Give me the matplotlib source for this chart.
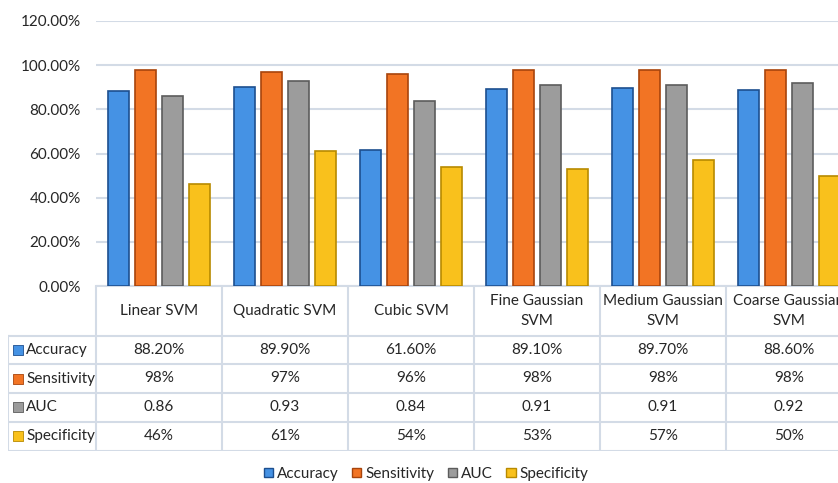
import matplotlib
matplotlib.use('Agg')
import numpy as np
import matplotlib.pyplot as plt
from matplotlib.patches import Patch

plt.rcParams['font.family'] = ['Lato', 'DejaVu Sans']

models = ['Linear SVM', 'Quadratic SVM', 'Cubic SVM', 'Fine Gaussian\nSVM',
          'Medium Gaussian\nSVM', 'Coarse Gaussian\nSVM']
series = ['Accuracy', 'Sensitivity', 'AUC', 'Specificity']
accuracy = [0.882, 0.899, 0.616, 0.891, 0.897, 0.886]
sensitivity = [0.98, 0.97, 0.96, 0.98, 0.98, 0.98]
auc = [0.86, 0.93, 0.84, 0.91, 0.91, 0.92]
specificity = [0.46, 0.61, 0.54, 0.53, 0.57, 0.50]
table_text = [
    ['88.20%', '89.90%', '61.60%', '89.10%', '89.70%', '88.60%'],
    ['98%', '97%', '96%', '98%', '98%', '98%'],
    ['0.86', '0.93', '0.84', '0.91', '0.91', '0.92'],
    ['46%', '61%', '54%', '53%', '57%', '50%'],
]
yticks = [0, 0.2, 0.4, 0.6, 0.8, 1.0, 1.2]

colors = ['#4592e4', '#f27424', '#9c9c9c', '#f9c11c']
edges = ['#1d4f8f', '#a8440c', '#5c5c5c', '#b88a00']
grid_c = '#d3dbe6'
text_c = '#262626'

W, H = 838, 483
fig = plt.figure(figsize=(W / 100, H / 100), dpi=100)

# main bar axes, right part runs past the figure edge like the source screenshot
ax = fig.add_axes([96 / W, (H - 286) / H, 756 / W, 265 / H])
x = np.arange(len(models))
vals = [accuracy, sensitivity, auc, specificity]
for i, v in enumerate(vals):
    ax.bar(x + (i - 1.5) * 0.214, v, 0.17, color=colors[i],
           edgecolor=edges[i], linewidth=1.2, zorder=3)
ax.set_xlim(-0.5, 5.5)
ax.set_ylim(0, 1.2)
ax.set_yticks(yticks)
ax.set_yticklabels(['%.2f%%' % (t * 100) for t in yticks], fontsize=11, color=text_c)
ax.tick_params(axis='y', length=0, pad=11)
ax.set_xticks([])
ax.grid(axis='y', color=grid_c, linewidth=1.5, zorder=0)
for s in ['left', 'right', 'top']:
    ax.spines[s].set_visible(False)
ax.spines['bottom'].set_color(grid_c)
ax.spines['bottom'].set_linewidth(1.5)

# data table underneath
x0 = -0.5 - 88 / 126
tax = fig.add_axes([8 / W, (H - 451) / H, (852 - 8) / W, 165 / H])
tax.set_xlim(x0, 5.5)
tax.set_ylim(451, 286)
tax.axis('off')
row_edges = [336, 364, 393, 422, 451]
for y in row_edges:
    tax.plot([x0, 5.5], [y, y], color=grid_c, lw=1.5)
for c in np.arange(-0.5, 6.0, 1.0):
    tax.plot([c, c], [286, 451], color=grid_c, lw=1.5)
tax.plot([x0, x0], [336, 451], color=grid_c, lw=1.5)

for j, m in enumerate(models):
    tax.text(j, 311, m, ha='center', va='center', fontsize=11, color=text_c,
             linespacing=1.5)
for i, name in enumerate(series):
    yc = (row_edges[i] + row_edges[i + 1]) / 2
    tax.scatter(x0 + 10 / 126, yc, marker='s', s=45, color=colors[i],
                edgecolor=edges[i], linewidth=0.6, clip_on=False)
    tax.text(x0 + 18 / 126, yc, name, ha='left', va='center', fontsize=11, color=text_c)
    for j in range(len(models)):
        tax.text(j, yc, table_text[i][j], ha='center', va='center', fontsize=11,
                 color=text_c)

handles = [Patch(facecolor=colors[i], edgecolor=edges[i], label=series[i])
           for i in range(4)]
fig.legend(handles=handles, loc='center', bbox_to_anchor=(426 / W, (H - 474) / H),
           ncol=4, frameon=False, fontsize=11, handlelength=0.6, handleheight=0.6,
           handletextpad=0.25, columnspacing=0.9, labelcolor=text_c,
           borderpad=0.1)

fig.savefig('out.png', dpi=100)
